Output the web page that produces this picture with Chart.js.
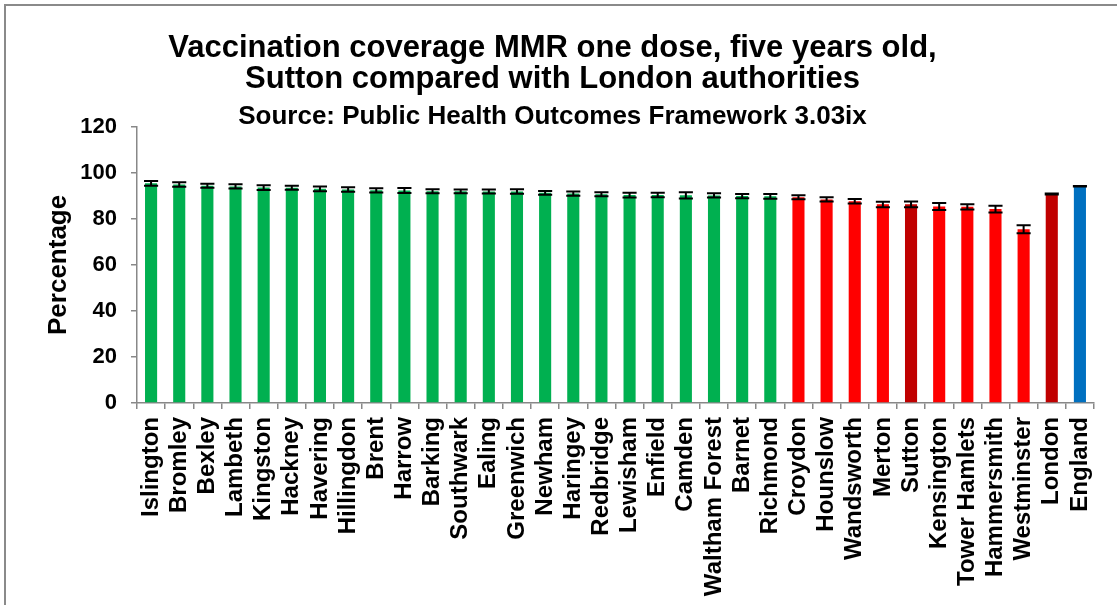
<!DOCTYPE html>
<html>
<head>
<meta charset="utf-8">
<script src="https://cdn.jsdelivr.net/npm/chart.js@4.4.1/dist/chart.umd.min.js"></script>
<style>
  html, body { margin: 0; padding: 0; background: #fff; overflow: hidden; }
  #frame { position: absolute; left: 4px; top: 4px; width: 1300px; height: 800px;
           border-left: 2px solid #8a8a8a; border-top: 2px solid #8a8a8a; }
  #wrap { position: absolute; left: 7px; top: 7px; width: 1110px; height: 598px; }
</style>
</head>
<body>
<div id="frame"></div>
<div id="wrap"><canvas id="chart"></canvas></div>
<script>
// Vaccination coverage MMR one dose (5 yrs), % with 95% CI
const areas = ['Islington', 'Bromley', 'Bexley', 'Lambeth', 'Kingston', 'Hackney', 'Havering',
    'Hillingdon', 'Brent', 'Harrow', 'Barking', 'Southwark', 'Ealing', 'Greenwich', 'Newham',
    'Haringey', 'Redbridge', 'Lewisham', 'Enfield', 'Camden', 'Waltham Forest', 'Barnet',
    'Richmond', 'Croydon', 'Hounslow', 'Wandsworth', 'Merton', 'Sutton', 'Kensington',
    'Tower Hamlets', 'Hammersmith', 'Westminster', 'London', 'England'];
const coverage = [95.5, 94.9, 94.4, 94.1, 93.6, 93.5, 93.1, 92.8, 92.4, 92.3, 92.0, 92.0, 91.9,
    91.9, 91.3, 91.0, 90.7, 90.4, 90.4, 90.3, 90.2, 89.9, 89.8, 89.4, 88.4, 87.7, 86.3, 86.3,
    85.4, 85.3, 84.3, 75.5, 90.8, 94.2];
const lowerCI = [94.4, 93.9, 93.5, 93.2, 92.5, 92.6, 92.0, 91.8, 91.5, 91.2, 91.1, 91.1, 91.0,
    90.9, 90.5, 90.0, 89.8, 89.3, 89.4, 88.9, 89.3, 89.0, 88.7, 88.5, 87.5, 86.7, 85.1, 85.0,
    83.8, 84.1, 82.8, 73.8, 90.6, 94.1];
const upperCI = [96.5, 95.9, 95.3, 95.0, 94.6, 94.4, 94.1, 93.7, 93.3, 93.4, 92.9, 92.8, 92.8,
    92.9, 92.1, 91.9, 91.6, 91.4, 91.3, 91.6, 91.1, 90.8, 90.8, 90.3, 89.4, 88.6, 87.4, 87.5,
    86.9, 86.4, 85.7, 77.2, 91.0, 94.3];
// comparison group of each area
const groups = ['higher', 'higher', 'higher', 'higher', 'higher', 'higher', 'higher', 'higher',
    'higher', 'higher', 'higher', 'higher', 'higher', 'higher', 'higher', 'higher', 'higher',
    'higher', 'higher', 'higher', 'higher', 'higher', 'higher', 'lower', 'lower', 'lower',
    'lower', 'sutton', 'lower', 'lower', 'lower', 'lower', 'london', 'england'];

const groupColors = {
    higher: '#00B050',
    lower: '#FF0000',
    sutton: '#C00000',
    london: '#C00000',
    england: '#0070C0'
};

const fontFamily = '"Liberation Sans", Arial, sans-serif';

// draws the confidence interval whiskers on top of each bar
const errorBars = {
    id: 'errorBars',
    afterDatasetsDraw(chart) {
        const meta = chart.getDatasetMeta(0);
        const yScale = chart.scales.y;
        const c = chart.ctx;
        c.save();
        c.strokeStyle = '#000';
        c.lineWidth = 2;
        meta.data.forEach((bar, i) => {
            const top = yScale.getPixelForValue(upperCI[i]);
            const bot = yScale.getPixelForValue(lowerCI[i]);
            const half = bar.width / 2 + 1;
            c.beginPath();
            c.moveTo(bar.x, top); c.lineTo(bar.x, bot);
            c.moveTo(bar.x - half, top); c.lineTo(bar.x + half, top);
            c.moveTo(bar.x - half, bot); c.lineTo(bar.x + half, bot);
            c.stroke();
        });
        c.restore();
    }
};

const ctx = document.getElementById('chart').getContext('2d');
new Chart(ctx, {
    type: 'bar',
    data: {
        labels: areas,
        datasets: [{
            data: coverage,
            backgroundColor: groups.map(g => groupColors[g]),
            categoryPercentage: 1,
            barPercentage: 0.43
        }]
    },
    options: {
        responsive: true,
        maintainAspectRatio: false,
        animation: false,
        layout: { padding: { left: 0, right: 19, top: 0, bottom: 0 } },
        plugins: {
            legend: { display: false },
            tooltip: { enabled: false },
            title: {
                display: true,
                text: ['Vaccination coverage MMR one dose, five years old,',
                       'Sutton compared with London authorities'],
                color: '#000',
                font: { family: fontFamily, size: 31, weight: 'bold', lineHeight: 1 },
                padding: { top: 26, bottom: 0 }
            },
            subtitle: {
                display: true,
                text: 'Source: Public Health Outcomes Framework 3.03ix',
                color: '#000',
                font: { family: fontFamily, size: 26, weight: 'bold', lineHeight: 0.8 },
                padding: { top: 11, bottom: 0 }
            }
        },
        scales: {
            x: {
                grid: { drawOnChartArea: false, offset: true, tickLength: 6, color: '#888', lineWidth: 1.5 },
                border: { color: '#888', width: 1.5 },
                ticks: {
                    autoSkip: false,
                    maxRotation: 90,
                    minRotation: 90,
                    padding: 8,
                    color: '#000',
                    font: { family: fontFamily, size: 24, weight: 'bold' }
                },
                afterFit(scale) { scale.height = 202; }
            },
            y: {
                min: 0,
                max: 120,
                grid: { drawOnChartArea: false, tickLength: 6, color: '#888', lineWidth: 1.5 },
                border: { color: '#888', width: 1.5 },
                ticks: {
                    stepSize: 20,
                    padding: 14,
                    color: '#000',
                    font: { family: fontFamily, size: 22, weight: 'bold' }
                },
                title: {
                    display: true,
                    text: 'Percentage',
                    color: '#000',
                    font: { family: fontFamily, size: 26, weight: 'bold' },
                    padding: { top: 36, bottom: 0 }
                },
                afterFit(scale) { scale.width = 130; }
            }
        }
    },
    plugins: [errorBars]
});
</script>
</body>
</html>
